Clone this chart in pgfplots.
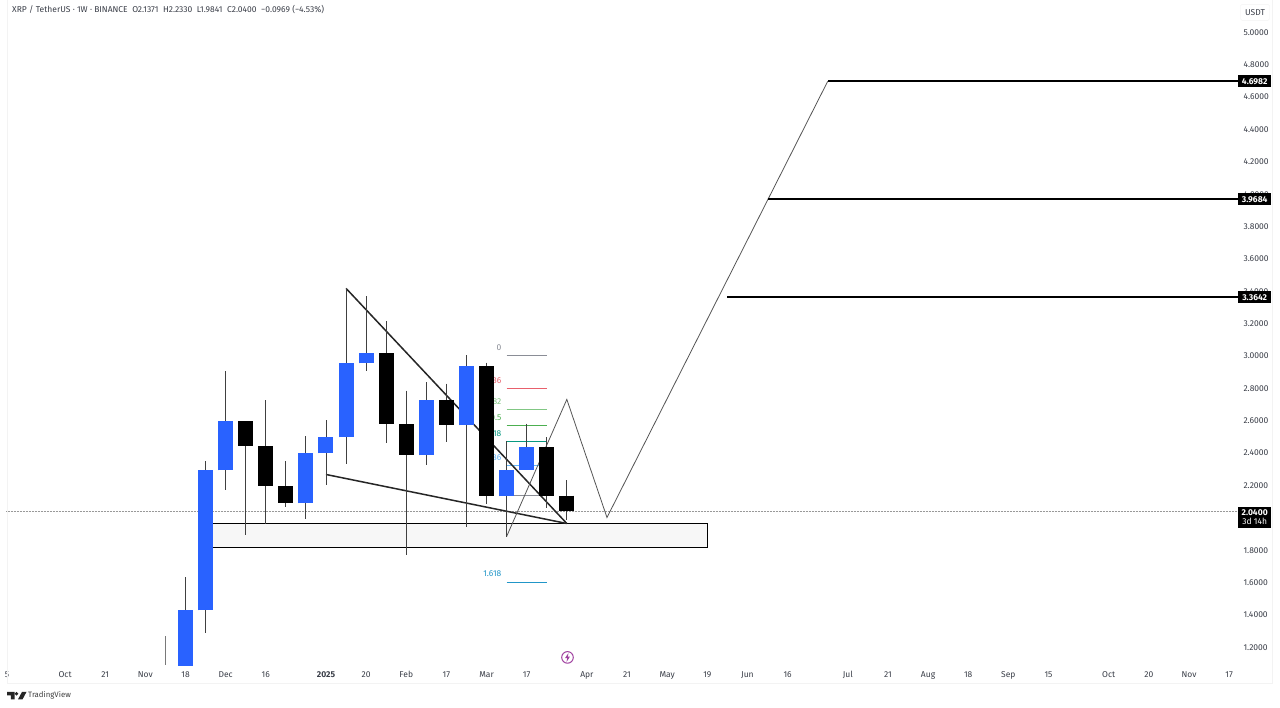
\documentclass[border=0pt]{standalone}
\usepackage{fontspec}
\setmainfont{Fira Sans}
\usepackage{pgfplots}
\pgfplotsset{compat=1.18}
\definecolor{tvblue}{HTML}{2962FF}
\definecolor{tvtext}{HTML}{3A3E48}
\definecolor{wickc}{HTML}{404040}
\definecolor{pane}{HTML}{F3F3F3}
\definecolor{zig}{HTML}{555555}
\definecolor{fgrey}{HTML}{8A8D96}
\definecolor{fred}{HTML}{E8606C}
\definecolor{flgreen}{HTML}{81C784}
\definecolor{fgreen}{HTML}{4CAF50}
\definecolor{fteal}{HTML}{089981}
\definecolor{fblue}{HTML}{64B5F6}
\definecolor{fdeep}{HTML}{2196C8}
% index, open, close, high, low, colour
\newcommand\candle[6]{%
  \addplot[wickc, line width=0.9pt, forget plot] coordinates {(#1,#4) (#1,#5)};
  \addplot[#6, line width=15pt, line cap=butt, forget plot] coordinates {(#1,#2) (#1,#3)};
}
\newcommand\fib[2]{\addplot[#2, line width=0.6pt, forget plot] coordinates {(16,#1) (18,#1)};}
\newcommand\fs{\fontsize{8.5}{10}\selectfont}
\begin{document}
\begin{tikzpicture}
\path[fill=white] (0,0) rectangle (1280pt,707pt);
\begin{axis}[
  at={(6pt,42pt)}, anchor=south west, scale only axis,
  width=1232pt, height=665pt,
  xmin=-8.944, xmax=52.441, ymin=1.088, ymax=5.198,
  axis line style={draw=none}, tick style={draw=none}, major tick length=0pt,
  ytick={1.2,1.4,1.6,1.8,2.0,2.2,2.4,2.6,2.8,3.0,3.2,3.4,3.6,3.8,4.0,4.2,4.4,4.6,4.8,5.0},
  yticklabel pos=right,
  yticklabel style={/pgf/number format/fixed,/pgf/number format/zerofill,/pgf/number format/precision=4,/pgf/number format/assume math mode=true,font=\fs,text=tvtext,xshift=2pt},
  xtick={-8.9,-6,-4,-2,0,2,4,7,9,11,13,15,17,20,22,24,26,28,30,33,35,37,39,41,43,46,48,50,52},
  xticklabels={5,Oct,21,Nov,18,Dec,16,\textbf{2025},20,Feb,17,Mar,17,Apr,21,May,19,Jun,16,Jul,21,Aug,18,Sep,15,Oct,20,Nov,17},
  xticklabel style={font=\fs,text=tvtext,yshift=-2.5pt},
]
% dotted last-price line
\addplot[gray!80, line width=0.5pt, densely dotted, forget plot] coordinates {(-8.944,2.04) (52.441,2.04)};
% support zone
\addplot[draw=black, fill=black!3, line width=1.1pt, forget plot] coordinates {(1,1.965) (26.03,1.965) (26.03,1.817) (1,1.817) (1,1.965)};
% fib levels and labels
\fib{3.004}{fgrey}
\fib{2.80}{fred}
\fib{2.67}{flgreen}
\fib{2.571}{fgreen}
\fib{2.472}{fteal}
\fib{2.323}{fblue}
\fib{2.138}{fgrey}
\fib{1.603}{fdeep}
\node[anchor=east,inner sep=0pt,font=\fs,text=fgrey] at (axis cs:15.75,3.05) {0};
\node[anchor=east,inner sep=0pt,font=\fs,text=fred] at (axis cs:15.75,2.85) {0.236};
\node[anchor=east,inner sep=0pt,font=\fs,text=flgreen] at (axis cs:15.75,2.72) {0.382};
\node[anchor=east,inner sep=0pt,font=\fs,text=fgreen] at (axis cs:15.75,2.62) {0.5};
\node[anchor=east,inner sep=0pt,font=\fs,text=fteal] at (axis cs:15.75,2.52) {0.618};
\node[anchor=east,inner sep=0pt,font=\fs,text=fblue] at (axis cs:15.75,2.37) {0.786};
\node[anchor=east,inner sep=0pt,font=\fs,text=fdeep] at (axis cs:15.75,1.652) {1.618};
% wedge trendlines
\addplot[black!85, line width=1.5pt, forget plot] coordinates {(8,3.418) (19,1.965)};
\addplot[black!85, line width=1.5pt, forget plot] coordinates {(7,2.268) (19,1.965)};
% projected path
\addplot[zig, line width=0.8pt, forget plot] coordinates {(16,1.885) (19,2.732) (21,2.002) (32,4.6982)};
% target levels
\addplot[black, line width=2pt, forget plot] coordinates {(32,4.6982) (52.441,4.6982)};
\addplot[black, line width=2pt, forget plot] coordinates {(29,3.9684) (52.441,3.9684)};
\addplot[black, line width=2pt, forget plot] coordinates {(27,3.3642) (52.441,3.3642)};
% candles
\addplot[wickc!70, line width=0.9pt, forget plot] coordinates {(-1,1.267) (-1,1.088)};
\candle{0}{1.05}{1.428}{1.632}{1.05}{tvblue}
\candle{1}{1.428}{2.293}{2.349}{1.286}{tvblue}
\candle{2}{2.293}{2.596}{2.905}{2.169}{tvblue}
\candle{3}{2.596}{2.441}{2.596}{1.897}{black}
\candle{4}{2.441}{2.194}{2.726}{1.965}{black}
\candle{5}{2.194}{2.089}{2.349}{2.064}{black}
\candle{6}{2.089}{2.398}{2.503}{1.990}{tvblue}
\candle{7}{2.398}{2.497}{2.602}{2.200}{tvblue}
\candle{8}{2.497}{2.954}{3.418}{2.330}{tvblue}
\candle{9}{2.954}{3.016}{3.368}{2.905}{tvblue}
\candle{10}{3.016}{2.577}{3.214}{2.460}{black}
\candle{11}{2.577}{2.386}{2.787}{1.768}{black}
\candle{12}{2.386}{2.726}{2.837}{2.324}{tvblue}
\candle{13}{2.726}{2.571}{2.83}{2.466}{black}
\candle{14}{2.571}{2.936}{3.004}{1.941}{tvblue}
\candle{15}{2.936}{2.132}{2.960}{2.083}{black}
\candle{16}{2.132}{2.293}{2.472}{1.879}{tvblue}
\candle{17}{2.293}{2.435}{2.583}{2.293}{tvblue}
\candle{18}{2.435}{2.1371}{2.497}{2.058}{black}
\candle{19}{2.1371}{2.04}{2.233}{1.9841}{black}
\end{axis}
\begin{scope}[x=1pt,y=1pt]
% pane border
\draw[pane, line width=0.8pt] (7,707) -- (7,24) -- (1272,24) -- (1272,707);
% price tags
\foreach \py/\t in {81/4.6982,199/3.9684,297/3.3642}{
  \node[fill=black,text=white,font=\fs\bfseries,inner sep=0pt,minimum width=33pt,minimum height=12pt,anchor=west] at (1238,707-\py) {\t};
}
\node[fill=black,text=white,font=\fs,inner sep=0pt,minimum width=33pt,minimum height=21pt,anchor=north west,align=center] at (1238,707-506) {\textbf{2.0400}\\[-1pt]3d 14h};
% currency box
\node[draw=pane,fill=white,rounded corners=1.5pt,text=tvtext,font=\fs,inner sep=0pt,minimum width=29pt,minimum height=16pt] at (1255,707-12) {USDT};
% header
\node[anchor=west,inner sep=0pt,font=\fs,text=tvtext] at (12,707-9) {XRP / TetherUS · 1W · BINANCE\ \ O2.1371\ \ H2.2330\ \ L1.9841\ \ C2.0400\ \ −0.0969 (−4.53\%)};
% lightning badge
\draw[violet!75!white,line width=1pt,fill=white] (567.5,707-657) circle (5.8);
\fill[violet!75!white] (568.5,707-652.5) -- (565,707-657.8) -- (567.2,707-657.8) -- (566.5,707-661.5) -- (570,707-656.2) -- (567.8,707-656.2) -- cycle;
% logo
\fill[black!85] (7,707-691.5) -- (14.5,707-691.5) -- (14.5,707-699) -- (10.8,707-699) -- (10.8,707-695) -- (7,707-695) -- cycle;
\fill[black!85] (16.5,707-693.3) circle (1.8);
\fill[black!85] (22,707-691.5) -- (26.5,707-691.5) -- (22.5,707-699) -- (18,707-699) -- cycle;
\node[anchor=west,inner sep=0pt,font=\fontsize{7.8}{10}\selectfont,text=black!75] at (28,707-695) {TradingView};
\end{scope}
\end{tikzpicture}
\end{document}
